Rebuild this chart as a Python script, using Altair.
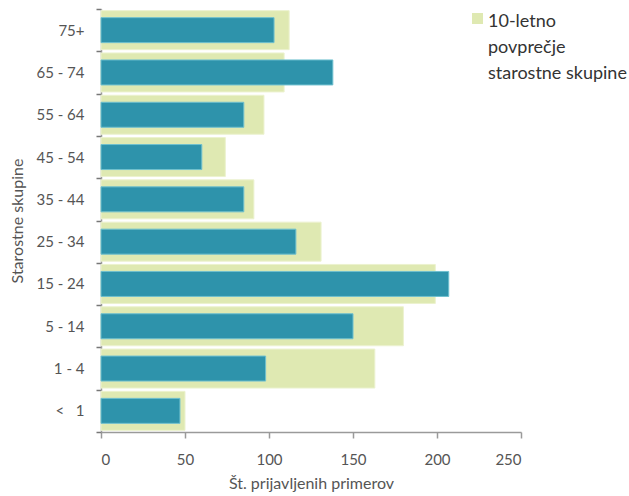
import altair as alt
import pandas as pd

# Age groups, top to bottom
groups = ["75+", "65 - 74", "55 - 64", "45 - 54", "35 - 44", "25 - 34",
          "15 - 24", "5 - 14", "1 - 4", "<\u00a0\u00a0\u00a01"]
# Reported cases in the current year
cases = [103, 138, 85, 60, 85, 116, 207, 150, 98, 47]
# Ten-year average per age group
avg10 = [112, 109, 97, 74, 91, 131, 199, 180, 163, 50]

avg_title = ["10-letno", "povprečje", "starostne skupine"]

df = pd.DataFrame({"skupina": groups, "primeri": cases, "povprecje": avg10,
                   "serija": ["povprecje"] * len(groups)})

FONT = "Lato"
TXT = "#555555"
AXIS = "#9a9a9a"

y_enc = alt.Y("skupina:N", sort=groups,
              scale=alt.Scale(paddingInner=0, paddingOuter=0),
              axis=alt.Axis(title="Starostne skupine", titleFontSize=16,
                            titleFont=FONT, titleColor=TXT, titleFontWeight="normal",
                            titlePadding=10,
                            labelFont=FONT, labelFontSize=15, labelColor=TXT,
                            labelPadding=12, tickBand="extent",
                            domainColor=AXIS, domainWidth=1.5,
                            tickColor="#777777", tickSize=5, tickWidth=1.5))

x_scale = alt.Scale(domain=[0, 250], nice=False)
x_axis = alt.Axis(title="Št. prijavljenih primerov", values=[0, 50, 100, 150, 200, 250],
                  titleFont=FONT, titleFontSize=16, titleColor=TXT,
                  titleFontWeight="normal", titlePadding=8,
                  labelFont=FONT, labelFontSize=15, labelColor=TXT, labelPadding=14,
                  grid=False, domainColor=AXIS, domainWidth=1.5,
                  tickColor=AXIS, tickSize=6, tickWidth=1.5)

# Legend: one swatch, with the multi-line description set as the legend title
avg_bars = alt.Chart(df).mark_bar(size=39, stroke="#ecf2cf", strokeWidth=1).encode(
    x=alt.X("povprecje:Q", scale=x_scale, axis=x_axis),
    y=y_enc,
    color=alt.Color("serija:N",
                    scale=alt.Scale(range=["#dfe9b2"]),
                    legend=alt.Legend(title=avg_title, titleOrient="right",
                                      titleAlign="left", titleAnchor="start",
                                      titleBaseline="top", titleLineHeight=26,
                                      titleFont=FONT, titleFontSize=18,
                                      titleFontWeight="normal", titleColor="#333333",
                                      titleLimit=300, titlePadding=5,
                                      orient="none", legendX=371, legendY=4,
                                      padding=0,
                                      symbolType="square", symbolSize=121,
                                      symbolStrokeWidth=0,
                                      labelExpr="''", labelOffset=0, labelFontSize=1)),
)

case_bars = alt.Chart(df).mark_bar(size=25, color="#2e93ab", stroke="#6fc0cf",
                                   strokeWidth=1).encode(
    x=alt.X("primeri:Q", scale=x_scale),
    y=alt.Y("skupina:N", sort=groups),
)

chart = (avg_bars + case_bars).properties(
    width=420, height=423,
    autosize=alt.AutoSizeParams(type="none"),
    padding={"left": 101, "top": 9, "right": 108, "bottom": 64},
).configure_view(stroke=None)

chart.save("out.html", embed_options={"renderer": "svg", "actions": False})
